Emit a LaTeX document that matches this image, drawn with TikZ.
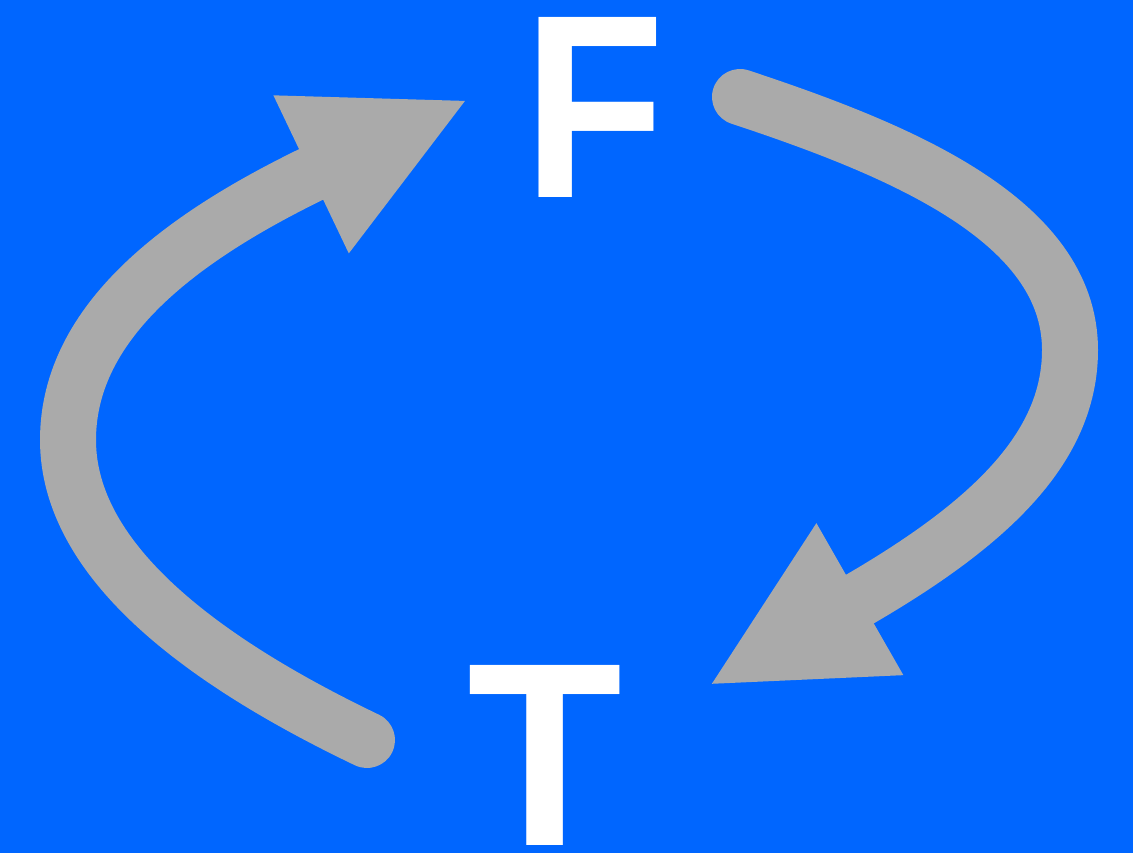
\documentclass[tikz,border=0pt]{standalone}
\usepackage{fontspec}
\setsansfont{Liberation Sans}
\usepackage{tikz}
\usetikzlibrary{arrows.meta}
\definecolor{flipblue}{RGB}{0,102,255}
\definecolor{flipgray}{RGB}{170,170,170}

\begin{document}
\begin{tikzpicture}[x=0.02cm, y=-0.02cm,
  letter/.style={font=\sffamily\bfseries\fontsize{149pt}{149pt}\selectfont,
    text=white, inner sep=0pt, anchor=base},
  looparrow/.style={line width=1.12cm, flipgray, line cap=round,
    -{Triangle[length=3.5cm, width=3.22cm]}}]

  %% Background
  \fill[flipblue] (0,0) rectangle (1133,853);
  \useasboundingbox (0,0) rectangle (1133,853);

  %% Letters
  \node[letter] (F) at (594,197) {\scalebox{0.885}[1]{F}};
  \node[letter] (T) at (545,845) {\scalebox{0.97}[1]{T}};

  %% Arrow ends
  \coordinate (lstart) at (367,740);
  \coordinate (lmid) at (68,440);
  \coordinate (ltip) at (469,99);
  \coordinate (rstart) at (740,97);
  \coordinate (rmid) at (1070,350);
  \coordinate (rtip) at (708,686);

  %% Left arrow: T up to F
  \draw[looparrow] (lstart) .. controls (200,660) and (68,560) .. (lmid)
    .. controls (68,320) and (184,235) .. (ltip);

  %% Right arrow: F down to T
  \draw[looparrow] (rstart) .. controls (900,150) and (1070,220) .. (rmid)
    .. controls (1070,450) and (986,527) .. (rtip);

\end{tikzpicture}
\end{document}
